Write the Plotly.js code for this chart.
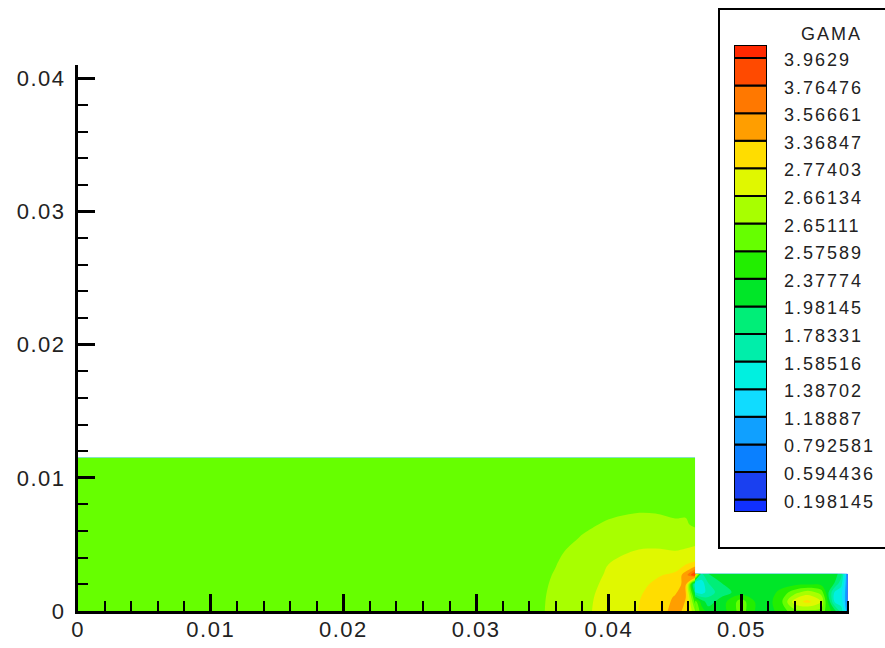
<!DOCTYPE html>
<html><head><meta charset="utf-8">
<script src="https://cdn.plot.ly/plotly-3.0.1.min.js"></script>
<style>
html,body{margin:0;padding:0;background:#fff;}
#chart{width:885px;height:648px;}
.xtick text,.ytick text{letter-spacing:1.5px;}
.annotation-text{letter-spacing:2px;}
</style></head><body><div id="chart"></div>
<script>
// GAMA contour levels shown in the legend (ascending)
const levels = [0.198145, 0.594436, 0.792581, 1.18887, 1.38702, 1.58516, 1.78331, 1.98145, 2.37774, 2.57589, 2.65111, 2.66134, 2.77403, 3.36847, 3.56661, 3.76476, 3.9629];
// colour of each band, from below the first level to above the last level
const bandColors = ['#1030ff','#1a40f0','#0a80ff','#10a0ff','#10dcff','#00f0e0','#00eeaa','#00ee78','#00e628','#22ee00','#66ff00','#a8ff00','#e0f800','#ffdd00','#ff9e00','#ff7800','#ff4a00','#ff2800'];
const legendTitle = 'GAMA';

// upstream block
const xUp = [0, 0.03, 0.034, 0.036, 0.038, 0.040, 0.042, 0.0435, 0.045, 0.0458, 0.0465];
const yUp = [0, 0.001, 0.002, 0.0027, 0.0035, 0.0045, 0.0055, 0.0065, 0.0075, 0.009, 0.0115];
const gamaUp = [
  [2.6135, 2.6135, 2.6323, 2.6529, 2.6595, 2.6963, 2.7650, 3.0713, 3.4279, 3.2496, 2.6511],
  [2.6135, 2.6135, 2.6315, 2.6527, 2.6591, 2.6929, 2.7571, 3.0118, 3.3883, 3.3685, 2.3777],
  [2.6135, 2.6135, 2.6293, 2.6522, 2.6580, 2.6839, 2.7368, 2.8632, 3.1307, 3.4279, 1.5852],
  [2.6135, 2.6135, 2.6263, 2.6517, 2.6568, 2.6749, 2.7166, 2.7593, 2.8929, 3.4675, 4.0025],
  [2.6135, 2.6135, 2.6218, 2.6496, 2.6554, 2.6625, 2.6929, 2.7143, 2.7188, 2.7740, 2.8929],
  [2.6135, 2.6135, 2.6150, 2.6421, 2.6535, 2.6579, 2.6647, 2.6715, 2.6630, 2.6726, 2.6951],
  [2.6135, 2.6135, 2.6135, 2.6323, 2.6515, 2.6547, 2.6571, 2.6573, 2.6558, 2.6572, 2.6562],
  [2.6135, 2.6135, 2.6135, 2.6218, 2.6421, 2.6519, 2.6534, 2.6534, 2.6521, 2.6521, 2.6398],
  [2.6135, 2.6135, 2.6135, 2.6135, 2.6285, 2.6421, 2.6481, 2.6473, 2.6421, 2.6436, 2.6323],
  [2.6135, 2.6135, 2.6135, 2.6135, 2.6135, 2.6195, 2.6248, 2.6240, 2.6195, 2.6210, 2.6210],
  [2.6135, 2.6135, 2.6135, 2.6135, 2.6135, 2.6135, 2.6135, 2.6135, 2.6135, 2.6135, 2.6135]
];

// downstream channel
const xCh = [0.0465, 0.047, 0.0475, 0.0485, 0.050, 0.051, 0.052, 0.053, 0.054, 0.055, 0.056, 0.057, 0.0575, 0.0578, 0.0580];
const yCh = [0, 0.0007, 0.0014, 0.0021, 0.0028];
const gamaCh = [
  [2.6511, 2.4768, 2.1796, 2.1796, 2.6135, 2.3777, 2.1796, 2.4768, 2.6210, 2.6361, 2.6210, 2.1796, 1.6842, 1.3870, 0.6935],
  [2.6135, 2.1796, 1.8824, 2.1796, 2.6135, 2.3777, 2.2192, 2.5363, 2.7177, 2.9524, 2.6613, 1.5852, 1.4861, 1.1889, 0.6935],
  [1.5852, 1.4861, 1.6842, 1.8824, 2.1796, 2.1796, 2.1796, 2.4372, 2.6210, 2.6562, 2.6210, 1.5852, 1.4465, 1.1889, 0.6935],
  [1.3870, 1.4861, 1.7833, 1.9815, 2.1796, 2.1796, 2.1796, 2.1796, 2.1796, 2.1796, 2.1796, 1.9815, 1.6842, 1.2880, 0.6935],
  [3.7648, 1.7833, 1.9815, 2.1796, 2.1796, 2.1796, 2.1796, 2.1796, 2.1796, 2.1796, 2.1796, 2.1796, 1.8824, 1.3870, 0.6935]
];

// map a GAMA value onto the (non-uniform) level index so Plotly's uniform contours hit the legend levels
function toBand(v) {
  const n = levels.length;
  if (v <= levels[0]) return Math.max(0.01, 1 - (levels[0] - v) / (levels[1] - levels[0]));
  if (v >= levels[n - 1]) return Math.min(n + 0.99, n + (v - levels[n - 1]) / (levels[n - 1] - levels[n - 2]));
  for (let i = 0; i < n - 1; i++) {
    if (v < levels[i + 1]) return i + 1 + (v - levels[i]) / (levels[i + 1] - levels[i]);
  }
}
const nb = bandColors.length;
const cscale = [];
bandColors.forEach((c, k) => {
  cscale.push([Math.max(0, (k - 0.5) / (nb - 1)), c]);
  cscale.push([Math.min(1, (k + 0.5) / (nb - 1)), c]);
});

function field(x, y, g) {
  return {
    type: 'contour', x: x, y: y, z: g.map(r => r.map(toBand)),
    autocontour: false,
    contours: {start: 1, end: levels.length, size: 1, coloring: 'fill', showlines: false},
    line: {width: 0, smoothing: 1},
    colorscale: cscale, showscale: false, hoverinfo: 'skip'
  };
}

const FONT = 'Liberation Sans, Arial, sans-serif';
const W = 885, H = 648;

// legend bars: thin end boxes, regular boxes between consecutive levels
const legBase = bandColors.map((c, k) => k === 0 ? -0.45 : k - 1);
const legTop = bandColors.map((c, k) => k === nb - 1 ? levels.length - 1 + 0.47 : k);
const legend = {
  type: 'bar', x: bandColors.map(() => 0), base: legBase,
  y: legTop.map((t, k) => t - legBase[k]), width: 1,
  marker: {color: bandColors, line: {color: '#000', width: 2}},
  xaxis: 'x2', yaxis: 'y2', showlegend: false, hoverinfo: 'skip'
};

const annotations = levels.map((v, i) => ({
  xref: 'paper', yref: 'y2', x: 782 / W, y: i, xanchor: 'left', yanchor: 'middle', yshift: -2,
  text: String(v), showarrow: false, font: {family: FONT, size: 18, color: '#222'}
}));
annotations.push({xref: 'paper', yref: 'paper', x: 831 / W, y: (H - 34) / H, xanchor: 'center', yanchor: 'middle',
  text: legendTitle, showarrow: false, font: {family: FONT, size: 18, color: '#222'}});
annotations.push({xref: 'paper', yref: 'paper', x: 463 / W, y: (H - 655) / H, xanchor: 'center', yanchor: 'middle',
  text: 'X', showarrow: false, font: {family: FONT, size: 22, color: '#222'}});

const axisCommon = {
  showline: true, linecolor: '#000', linewidth: 3, mirror: false,
  ticks: 'inside', ticklen: 17, tickwidth: 3, tickcolor: '#000',
  showgrid: false, zeroline: false, dtick: 0.01, tick0: 0,
  tickfont: {family: FONT, size: 22, color: '#222'},
  minor: {ticks: 'inside', ticklen: 10, tickwidth: 2, tickcolor: '#000', dtick: 0.002, showgrid: false},
  automargin: false, fixedrange: true
};

const layout = {
  width: W, height: H, autosize: false,
  margin: {l: 0, r: 0, t: 0, b: 0},
  paper_bgcolor: '#fff', plot_bgcolor: 'rgba(0,0,0,0)',
  showlegend: false,
  xaxis: Object.assign({}, axisCommon, {domain: [78 / W, 849 / W], range: [0, 0.0581], anchor: 'y', ticklabelstandoff: -3}),
  yaxis: Object.assign({}, axisCommon, {domain: [37 / H, 583 / H], range: [0, 0.041], anchor: 'x', ticklabelstandoff: 5}),
  xaxis2: {domain: [734 / W, 767 / W], range: [-0.5, 0.5], visible: false, anchor: 'y2', fixedrange: true},
  yaxis2: {domain: [136 / H, 603 / H], range: [-0.45, levels.length - 1 + 0.47], visible: false, anchor: 'x2', fixedrange: true},
  shapes: [{type: 'rect', xref: 'paper', yref: 'paper', x0: 719 / W, x1: 1.02, y0: (H - 548) / H, y1: (H - 9) / H,
    line: {color: '#000', width: 2}, fillcolor: '#fff', layer: 'below'}],
  annotations: annotations
};

Plotly.newPlot('chart', [field(xUp, yUp, gamaUp), field(xCh, yCh, gamaCh), legend], layout, {staticPlot: true, displayModeBar: false});
</script></body></html>
